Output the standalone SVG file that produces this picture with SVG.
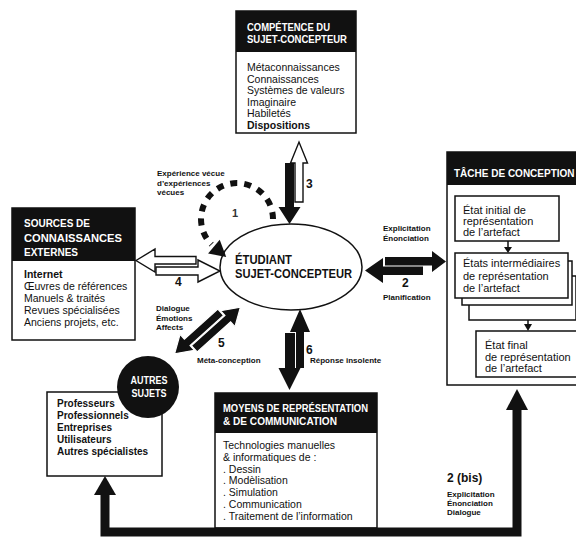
<svg xmlns="http://www.w3.org/2000/svg" width="576" height="538" viewBox="0 0 576 538">
<style>
text{font-family:"Liberation Sans",Arial,sans-serif;fill:#111}
.box{fill:#fff;stroke:#111;stroke-width:1.5}
.hdr{fill:#111}
.ht{font-size:11px;font-weight:bold;fill:#fff}
.bt{font-size:10.5px}
.tt{font-size:11px}
.b{font-weight:bold}
.ab{font-size:10px;font-weight:bold}
.sm{font-size:8px;font-weight:bold}
.num{font-size:12px;font-weight:bold}
.one{font-size:11px;font-weight:bold;fill:#333}
.blk{fill:#111}
.wht{fill:#fff;stroke:#111;stroke-width:1.4;stroke-linejoin:miter}
.sep{fill:#111;stroke:#fff;stroke-width:1.2}
</style>
<g id="competence">
<rect class="box" x="236" y="11" width="120" height="122"/>
<rect class="hdr" x="236" y="11" width="120" height="41"/>
<text class="ht" x="247" y="31" textLength="83" lengthAdjust="spacingAndGlyphs">COMPÉTENCE DU</text>
<text class="ht" x="247" y="43" textLength="100" lengthAdjust="spacingAndGlyphs">SUJET-CONCEPTEUR</text>
<text class="bt" x="247" y="71">Métaconnaissances</text>
<text class="bt" x="247" y="82.5">Connaissances</text>
<text class="bt" x="247" y="94">Systèmes de valeurs</text>
<text class="bt" x="247" y="105.5">Imaginaire</text>
<text class="bt" x="247" y="117">Habiletés</text>
<text class="bt b" x="247" y="128.5">Dispositions</text>
</g>
<g id="sources">
<rect class="box" x="12" y="208" width="123" height="132"/>
<rect class="hdr" x="12" y="208" width="123" height="53"/>
<text class="ht" x="24" y="227" textLength="66" lengthAdjust="spacingAndGlyphs">SOURCES DE</text>
<text class="ht" x="24" y="241.5" textLength="98" lengthAdjust="spacingAndGlyphs">CONNAISSANCES</text>
<text class="ht" x="24" y="256" textLength="54" lengthAdjust="spacingAndGlyphs">EXTERNES</text>
<text class="bt b" x="24" y="278">Internet</text>
<text class="bt" x="24" y="290">Œuvres de références</text>
<text class="bt" x="24" y="302">Manuels &amp; traités</text>
<text class="bt" x="24" y="314">Revues spécialisées</text>
<text class="bt" x="24" y="326">Anciens projets, etc.</text>
</g>
<g id="tache">
<rect class="box" x="447" y="152" width="150" height="233"/>
<rect class="hdr" x="447" y="152" width="150" height="33"/>
<text class="ht" x="454" y="177" style="font-size:10px">TÂCHE DE CONCEPTION</text>
<rect class="box" x="455" y="196" width="104" height="45"/>
<text class="tt" x="463" y="214">État initial de</text>
<text class="tt" x="463" y="225">représentation</text>
<text class="tt" x="463" y="236">de l’artefact</text>
<line x1="508" y1="241" x2="508" y2="249" stroke="#111" stroke-width="1.5"/>
<polygon class="blk" points="504,247 512,247 508,253"/>
<rect class="box" x="469" y="276" width="107" height="44"/>
<rect class="box" x="462" y="261" width="110" height="44"/>
<rect class="box" x="455" y="253" width="113" height="45"/>
<text class="tt" x="463" y="267">États intermédiaires</text>
<text class="tt" x="463" y="280">de représentation</text>
<text class="tt" x="463" y="292">de l’artefact</text>
<line x1="528" y1="320" x2="528" y2="326" stroke="#111" stroke-width="1.5"/>
<polygon class="blk" points="524,324 532,324 528,331"/>
<rect class="box" x="476" y="331" width="120" height="46"/>
<text class="tt" x="485" y="349">État final</text>
<text class="tt" x="485" y="361">de représentation</text>
<text class="tt" x="485" y="372">de l’artefact</text>
</g>
<g id="etudiant">
<ellipse cx="291" cy="267" rx="71" ry="43" fill="#fff" stroke="#111" stroke-width="1.5"/>
<text x="235" y="264" font-size="12.5" font-weight="bold" textLength="57" lengthAdjust="spacingAndGlyphs">ÉTUDIANT</text>
<text x="235" y="278" font-size="12.5" font-weight="bold" textLength="117" lengthAdjust="spacingAndGlyphs">SUJET-CONCEPTEUR</text>
</g>
<g id="moyens">
<rect class="box" x="215" y="393" width="162" height="135"/>
<rect class="hdr" x="215" y="393" width="162" height="40"/>
<text class="ht" x="223" y="412" textLength="145" lengthAdjust="spacingAndGlyphs">MOYENS DE REPRÉSENTATION</text>
<text class="ht" x="223" y="425" textLength="114" lengthAdjust="spacingAndGlyphs">&amp; DE COMMUNICATION</text>
<text class="bt" x="223" y="449">Technologies manuelles</text>
<text class="bt" x="223" y="461">&amp; informatiques de :</text>
<text class="bt" x="223" y="472.5">. Dessin</text>
<text class="bt" x="223" y="484">. Modèlisation</text>
<text class="bt" x="223" y="496">. Simulation</text>
<text class="bt" x="223" y="507.5">. Communication</text>
<text class="bt" x="223" y="519.5">. Traitement de l’information</text>
</g>
<g id="autres">
<rect class="box" x="47" y="392" width="115" height="84"/>
<text class="ab" x="57" y="407">Professeurs</text>
<text class="ab" x="57" y="419">Professionnels</text>
<text class="ab" x="57" y="431">Entreprises</text>
<text class="ab" x="57" y="443">Utilisateurs</text>
<text class="ab" x="57" y="455">Autres spécialistes</text>
<circle cx="148" cy="387" r="31" fill="#111"/>
<text class="ht" x="149" y="384" text-anchor="middle" textLength="37" lengthAdjust="spacingAndGlyphs">AUTRES</text>
<text class="ht" x="149" y="397" text-anchor="middle" textLength="35" lengthAdjust="spacingAndGlyphs">SUJETS</text>
</g>
<g id="connectors">
<path d="M273 219 A36 36 0 1 0 211.5 244.5" fill="none" stroke="#111" stroke-width="6" stroke-dasharray="7 7"/>
<polygon class="blk" points="219.7,239.7 226.2,256.9 208.1,253.5"/>
<polygon class="blk" points="285,163 294,163 294,207 300.5,207 289.5,224 278.5,207 285,207"/>
<polygon class="wht" points="295,202 303,202 303,163 307.5,163 299,142 290.5,163 295,163"/>
<polygon class="wht" points="136,260.5 155,249 155,256.5 196,256.5 196,264 155,264 155,272"/>
<polygon class="wht" points="156,267 198,267 198,260 220,271 198,282 198,275 156,275"/>
<polygon class="blk" points="385,257 432,257 432,251 446,261.5 432,272 432,265.5 385,265.5"/>
<polygon class="blk" points="423,266.5 383,266.5 383,258 365,270.5 383,283 383,275 423,275"/>
<g transform="translate(207.5,330.5) rotate(-42)">
<polygon class="sep" points="-22,0.5 23,0.5 23,-6 40,4.75 23,15.5 23,9 -22,9"/>
<polygon class="sep" points="22,-0.5 -23,-0.5 -23,6 -40,-4.75 -23,-15.5 -23,-9 22,-9"/>
</g>
<polygon class="blk" points="296,368 304,368 304,332 310,332 300,309 290,332 296,332"/>
<polygon class="blk" points="285,333 295,333 295,368 300.5,368 289.5,390 278.5,368 285,368"/>
<path d="M105 494 V532 H517 V409" fill="none" stroke="#111" stroke-width="9" stroke-linejoin="miter"/>
<polygon class="blk" points="94,495 116,495 105,476"/>
<polygon class="blk" points="506,410 528,410 517,389"/>
</g>
<g id="labels">
<text class="one" x="232" y="217">1</text>
<text class="sm" x="157" y="175.5">Expérience vécue</text>
<text class="sm" x="157" y="185.5">d’expériences</text>
<text class="sm" x="157" y="194.5">vécues</text>
<text class="num" x="306" y="188">3</text>
<text class="num" x="175" y="286">4</text>
<text class="num" x="402" y="287">2</text>
<text class="sm" x="383" y="231">Explicitation</text>
<text class="sm" x="383" y="240.5">Énonciation</text>
<text class="sm" x="383" y="300">Planification</text>
<text class="sm" x="156" y="311">Dialogue</text>
<text class="sm" x="156" y="320.5">Émotions</text>
<text class="sm" x="156" y="330">Affects</text>
<text class="num" x="218" y="347">5</text>
<text class="sm" x="197" y="363">Méta-conception</text>
<text class="num" x="306" y="354">6</text>
<text class="sm" x="310" y="363">Réponse insolente</text>
<text class="num" x="447" y="482">2 (bis)</text>
<text class="sm" x="447" y="496.5">Explicitation</text>
<text class="sm" x="447" y="506">Énonciation</text>
<text class="sm" x="447" y="515">Dialogue</text>
</g>
</svg>
